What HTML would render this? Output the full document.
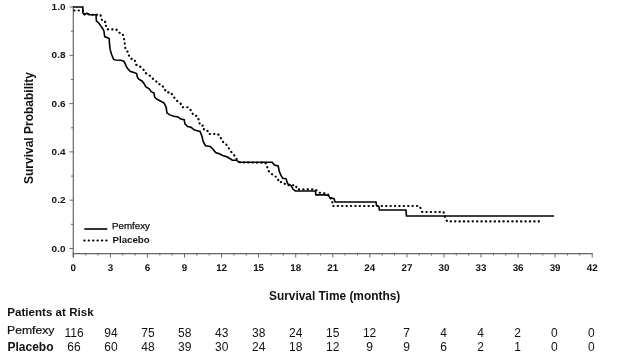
<!DOCTYPE html>
<html><head><meta charset="utf-8"><style>
html,body{margin:0;padding:0;background:#fff;}
body{width:617px;height:362px;position:relative;overflow:hidden;will-change:transform;font-family:"Liberation Sans",sans-serif;color:#111;}
svg{position:absolute;left:0;top:0;}
.yl{position:absolute;left:30px;width:35.5px;text-align:right;font-weight:bold;font-size:9.5px;line-height:12px;transform:scaleX(1.05);transform-origin:right top;}
.xl{position:absolute;top:262.6px;width:30px;text-align:center;font-weight:bold;font-size:9.8px;line-height:12px;text-rendering:geometricPrecision;}
.n{position:absolute;width:40px;text-align:center;font-size:12px;line-height:14px;}
.r1{top:325.5px;}
.r2{top:340px;}
.t{position:absolute;font-weight:bold;white-space:nowrap;}
</style></head><body>
<svg width="617" height="362" viewBox="0 0 617 362">
<line x1="73.3" y1="6.5" x2="73.3" y2="257.5" stroke="#666" stroke-width="1.2"/>
<line x1="72.7" y1="253.6" x2="592.8" y2="253.6" stroke="#666" stroke-width="1.2"/>
<line x1="69.5" y1="248.5" x2="73.3" y2="248.5" stroke="#666" stroke-width="1"/>
<line x1="71.0" y1="224.3" x2="73.3" y2="224.3" stroke="#666" stroke-width="1"/>
<line x1="69.5" y1="200.2" x2="73.3" y2="200.2" stroke="#666" stroke-width="1"/>
<line x1="71.0" y1="176.1" x2="73.3" y2="176.1" stroke="#666" stroke-width="1"/>
<line x1="69.5" y1="151.9" x2="73.3" y2="151.9" stroke="#666" stroke-width="1"/>
<line x1="71.0" y1="127.8" x2="73.3" y2="127.8" stroke="#666" stroke-width="1"/>
<line x1="69.5" y1="103.6" x2="73.3" y2="103.6" stroke="#666" stroke-width="1"/>
<line x1="71.0" y1="79.5" x2="73.3" y2="79.5" stroke="#666" stroke-width="1"/>
<line x1="69.5" y1="55.3" x2="73.3" y2="55.3" stroke="#666" stroke-width="1"/>
<line x1="71.0" y1="31.2" x2="73.3" y2="31.2" stroke="#666" stroke-width="1"/>
<line x1="69.5" y1="7.0" x2="73.3" y2="7.0" stroke="#666" stroke-width="1"/>
<line x1="73.3" y1="253.6" x2="73.3" y2="257.5" stroke="#666" stroke-width="1"/>
<line x1="85.7" y1="253.6" x2="85.7" y2="255.5" stroke="#666" stroke-width="1"/>
<line x1="98.0" y1="253.6" x2="98.0" y2="255.5" stroke="#666" stroke-width="1"/>
<line x1="110.4" y1="253.6" x2="110.4" y2="257.5" stroke="#666" stroke-width="1"/>
<line x1="122.7" y1="253.6" x2="122.7" y2="255.5" stroke="#666" stroke-width="1"/>
<line x1="135.1" y1="253.6" x2="135.1" y2="255.5" stroke="#666" stroke-width="1"/>
<line x1="147.4" y1="253.6" x2="147.4" y2="257.5" stroke="#666" stroke-width="1"/>
<line x1="159.8" y1="253.6" x2="159.8" y2="255.5" stroke="#666" stroke-width="1"/>
<line x1="172.1" y1="253.6" x2="172.1" y2="255.5" stroke="#666" stroke-width="1"/>
<line x1="184.5" y1="253.6" x2="184.5" y2="257.5" stroke="#666" stroke-width="1"/>
<line x1="196.8" y1="253.6" x2="196.8" y2="255.5" stroke="#666" stroke-width="1"/>
<line x1="209.2" y1="253.6" x2="209.2" y2="255.5" stroke="#666" stroke-width="1"/>
<line x1="221.6" y1="253.6" x2="221.6" y2="257.5" stroke="#666" stroke-width="1"/>
<line x1="233.9" y1="253.6" x2="233.9" y2="255.5" stroke="#666" stroke-width="1"/>
<line x1="246.3" y1="253.6" x2="246.3" y2="255.5" stroke="#666" stroke-width="1"/>
<line x1="258.6" y1="253.6" x2="258.6" y2="257.5" stroke="#666" stroke-width="1"/>
<line x1="271.0" y1="253.6" x2="271.0" y2="255.5" stroke="#666" stroke-width="1"/>
<line x1="283.3" y1="253.6" x2="283.3" y2="255.5" stroke="#666" stroke-width="1"/>
<line x1="295.7" y1="253.6" x2="295.7" y2="257.5" stroke="#666" stroke-width="1"/>
<line x1="308.0" y1="253.6" x2="308.0" y2="255.5" stroke="#666" stroke-width="1"/>
<line x1="320.4" y1="253.6" x2="320.4" y2="255.5" stroke="#666" stroke-width="1"/>
<line x1="332.8" y1="253.6" x2="332.8" y2="257.5" stroke="#666" stroke-width="1"/>
<line x1="345.1" y1="253.6" x2="345.1" y2="255.5" stroke="#666" stroke-width="1"/>
<line x1="357.5" y1="253.6" x2="357.5" y2="255.5" stroke="#666" stroke-width="1"/>
<line x1="369.8" y1="253.6" x2="369.8" y2="257.5" stroke="#666" stroke-width="1"/>
<line x1="382.2" y1="253.6" x2="382.2" y2="255.5" stroke="#666" stroke-width="1"/>
<line x1="394.5" y1="253.6" x2="394.5" y2="255.5" stroke="#666" stroke-width="1"/>
<line x1="406.9" y1="253.6" x2="406.9" y2="257.5" stroke="#666" stroke-width="1"/>
<line x1="419.2" y1="253.6" x2="419.2" y2="255.5" stroke="#666" stroke-width="1"/>
<line x1="431.6" y1="253.6" x2="431.6" y2="255.5" stroke="#666" stroke-width="1"/>
<line x1="443.9" y1="253.6" x2="443.9" y2="257.5" stroke="#666" stroke-width="1"/>
<line x1="456.3" y1="253.6" x2="456.3" y2="255.5" stroke="#666" stroke-width="1"/>
<line x1="468.7" y1="253.6" x2="468.7" y2="255.5" stroke="#666" stroke-width="1"/>
<line x1="481.0" y1="253.6" x2="481.0" y2="257.5" stroke="#666" stroke-width="1"/>
<line x1="493.4" y1="253.6" x2="493.4" y2="255.5" stroke="#666" stroke-width="1"/>
<line x1="505.7" y1="253.6" x2="505.7" y2="255.5" stroke="#666" stroke-width="1"/>
<line x1="518.1" y1="253.6" x2="518.1" y2="257.5" stroke="#666" stroke-width="1"/>
<line x1="530.4" y1="253.6" x2="530.4" y2="255.5" stroke="#666" stroke-width="1"/>
<line x1="542.8" y1="253.6" x2="542.8" y2="255.5" stroke="#666" stroke-width="1"/>
<line x1="555.1" y1="253.6" x2="555.1" y2="257.5" stroke="#666" stroke-width="1"/>
<line x1="567.5" y1="253.6" x2="567.5" y2="255.5" stroke="#666" stroke-width="1"/>
<line x1="579.8" y1="253.6" x2="579.8" y2="255.5" stroke="#666" stroke-width="1"/>
<line x1="592.2" y1="253.6" x2="592.2" y2="257.5" stroke="#666" stroke-width="1"/>
<polyline points="73.0,7.0 82.8,7.0 82.8,12.8 84.4,14.4 86.9,13.2 89.4,14.8 96.0,14.8 96.4,21.0 98.5,22.7 100.6,25.6 102.6,28.5 103.9,31.0 104.7,36.6 107.4,37.7 109.2,38.6 109.5,44.2 110.2,49.7 111.6,54.5 113.6,59.4 115.7,60.0 121.2,60.3 124.0,61.4 125.4,64.2 126.4,66.7 127.8,68.8 130.5,71.6 133.3,72.3 136.7,73.6 137.4,77.1 138.8,79.2 142.3,81.2 144.3,84.0 145.7,86.8 149.2,88.8 151.2,91.6 154.0,93.0 154.7,97.1 156.8,99.2 160.9,101.3 164.1,103.1 166.2,107.3 166.9,112.8 169.7,114.9 173.8,116.2 178.0,116.9 180.7,119.0 184.2,119.7 184.9,123.8 187.6,126.6 191.1,127.3 194.5,130.1 200.0,131.4 201.9,136.0 203.3,141.6 205.4,145.7 210.2,146.4 213.0,149.2 215.7,152.6 219.9,154.0 222.6,155.4 226.8,156.8 230.2,158.8 232.3,160.2 236.4,160.2 239.1,162.3 272.2,162.3 274.4,165.0 278.2,166.0 279.3,171.6 281.0,175.4 282.7,178.2 286.0,178.8 287.6,183.7 290.9,185.4 293.1,189.3 295.4,191.0 315.4,191.0 315.9,194.9 324.2,194.9 328.6,195.4 329.7,197.6 334.1,198.7 335.1,202.0 376.0,202.0 376.5,205.4 378.8,206.6 379.4,210.0 405.9,210.0 406.5,216.0 554.0,216.0" fill="none" stroke="#000" stroke-width="1.6" stroke-linejoin="miter"/>
<polyline points="73.0,10.5 83.0,10.5 83.0,13.0 84.4,14.4 86.9,13.2 89.4,14.8 100.6,14.8 101.4,18.6 102.6,21.5 105.5,21.9 106.0,26.2 107.4,29.4 116.4,29.4 118.5,32.4 122.6,33.8 124.0,38.6 124.7,43.5 125.4,49.0 128.1,52.5 129.5,57.3 130.5,58.5 134.7,59.8 136.0,64.7 140.2,66.7 143.0,68.8 145.7,73.0 149.9,75.7 152.6,78.5 156.1,81.2 158.1,84.0 161.6,84.7 163.7,87.5 166.4,92.3 171.0,92.5 173.1,96.2 176.6,100.4 180.7,103.8 182.8,107.3 188.3,107.3 191.8,111.4 193.1,114.9 197.3,116.2 198.7,119.7 200.0,125.2 203.3,125.7 204.0,129.8 207.4,130.5 208.8,134.0 217.8,134.0 219.9,136.0 221.2,138.8 223.3,142.3 226.1,144.3 228.1,147.1 230.2,150.6 232.3,153.3 235.0,156.1 236.4,158.8 238.5,160.9 240.0,162.5 265.4,162.7 267.2,166.6 267.7,169.4 269.4,172.1 272.2,174.3 274.9,176.0 277.7,178.2 278.8,182.1 282.7,182.1 286.2,185.0 295.9,185.4 297.0,189.3 314.3,189.3 316.0,190.0 319.2,192.7 324.2,193.2 327.5,193.8 329.2,196.5 331.9,200.4 332.3,202.0 332.8,206.0 419.3,206.0 421.1,209.0 422.3,212.0 443.6,212.0 445.4,218.7 447.3,221.4 542.0,221.4" fill="none" stroke="#000" stroke-width="2.1" stroke-linecap="round" stroke-dasharray="0.3 4.1" stroke-dashoffset="-1.2"/>
<line x1="84.3" y1="229" x2="107.3" y2="229" stroke="#000" stroke-width="1.6"/>
<line x1="84.3" y1="240.5" x2="107.3" y2="240.5" stroke="#000" stroke-width="2.1" stroke-linecap="round" stroke-dasharray="0.3 4.1"/>
</svg>
<div class="yl" style="top:242.6px">0.0</div>
<div class="yl" style="top:194.3px">0.2</div>
<div class="yl" style="top:146.0px">0.4</div>
<div class="yl" style="top:97.7px">0.6</div>
<div class="yl" style="top:49.4px">0.8</div>
<div class="yl" style="top:1.1px">1.0</div>
<div class="xl" style="left:58.3px">0</div>
<div class="xl" style="left:95.4px">3</div>
<div class="xl" style="left:132.4px">6</div>
<div class="xl" style="left:169.5px">9</div>
<div class="xl" style="left:206.6px">12</div>
<div class="xl" style="left:243.6px">15</div>
<div class="xl" style="left:280.7px">18</div>
<div class="xl" style="left:317.8px">21</div>
<div class="xl" style="left:354.8px">24</div>
<div class="xl" style="left:391.9px">27</div>
<div class="xl" style="left:428.9px">30</div>
<div class="xl" style="left:466.0px">33</div>
<div class="xl" style="left:503.1px">36</div>
<div class="xl" style="left:540.1px">39</div>
<div class="xl" style="left:577.2px">42</div>
<div class="n r1" style="left:54.0px">116</div>
<div class="n r2" style="left:54.0px">66</div>
<div class="n r1" style="left:90.9px">94</div>
<div class="n r2" style="left:90.9px">60</div>
<div class="n r1" style="left:127.9px">75</div>
<div class="n r2" style="left:127.9px">48</div>
<div class="n r1" style="left:164.8px">58</div>
<div class="n r2" style="left:164.8px">39</div>
<div class="n r1" style="left:201.8px">43</div>
<div class="n r2" style="left:201.8px">30</div>
<div class="n r1" style="left:238.8px">38</div>
<div class="n r2" style="left:238.8px">24</div>
<div class="n r1" style="left:275.7px">24</div>
<div class="n r2" style="left:275.7px">18</div>
<div class="n r1" style="left:312.7px">15</div>
<div class="n r2" style="left:312.7px">12</div>
<div class="n r1" style="left:349.6px">12</div>
<div class="n r2" style="left:349.6px">9</div>
<div class="n r1" style="left:386.6px">7</div>
<div class="n r2" style="left:386.6px">9</div>
<div class="n r1" style="left:423.6px">4</div>
<div class="n r2" style="left:423.6px">6</div>
<div class="n r1" style="left:460.5px">4</div>
<div class="n r2" style="left:460.5px">2</div>
<div class="n r1" style="left:497.5px">2</div>
<div class="n r2" style="left:497.5px">1</div>
<div class="n r1" style="left:534.4px">0</div>
<div class="n r2" style="left:534.4px">0</div>
<div class="n r1" style="left:571.4px">0</div>
<div class="n r2" style="left:571.4px">0</div>
<div class="t" style="left:269px;top:288.5px;font-size:11.9px;line-height:14px;">Survival Time (months)</div>
<div class="t" style="left:7.3px;top:305.3px;font-size:11.6px;line-height:14px;">Patients at Risk</div>
<div class="t" style="left:7px;top:323px;font-size:10.8px;line-height:14px;font-weight:normal;-webkit-text-stroke:0.2px #111;transform:scaleX(1.13);transform-origin:0 0;">Pemfexy</div>
<div class="t" style="left:7.5px;top:340px;font-size:12px;line-height:14px;">Placebo</div>
<div class="t" style="left:112.3px;top:219.8px;font-size:8.8px;line-height:12px;font-weight:normal;-webkit-text-stroke:0.25px #111;transform:scaleX(1.11);transform-origin:0 0;">Pemfexy</div>
<div class="t" style="left:112.5px;top:234px;font-size:9.7px;line-height:12px;">Placebo</div>
<div class="t" style="left:-27px;top:121px;width:112px;text-align:center;font-size:12px;line-height:14px;transform:rotate(-90deg);">Survival Probability</div>
</body></html>
